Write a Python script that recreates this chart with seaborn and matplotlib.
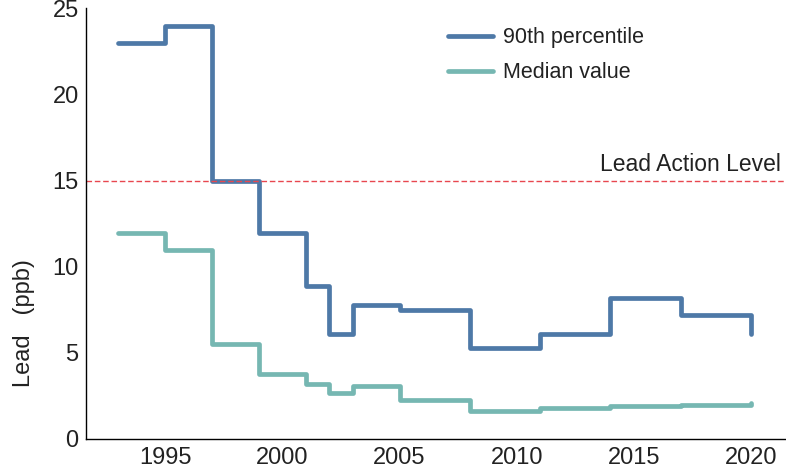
import numpy as np
import pandas as pd
import matplotlib.pyplot as plt
import seaborn as sns

years = [1993, 1995, 1997, 1999, 2001, 2002, 2003, 2005, 2008, 2011, 2014, 2017, 2020]
p90 = [23.0, 24.0, 15.0, 12.0, 8.9, 6.1, 7.8, 7.5, 5.3, 6.1, 8.2, 7.2, 6.1]
median = [12.0, 11.0, 5.5, 3.8, 3.2, 2.7, 3.1, 2.25, 1.6, 1.8, 1.9, 1.96, 2.1]
series_names = ['90th percentile', 'Median value']
action_level = 15
xticks = [1995, 2000, 2005, 2010, 2015, 2020]
yticks = [0, 5, 10, 15, 20, 25]

df = pd.concat([
    pd.DataFrame({'year': years, 'lead': p90, 'series': series_names[0]}),
    pd.DataFrame({'year': years, 'lead': median, 'series': series_names[1]}),
])

sns.set_theme(style='white')
plt.rcParams['font.family'] = ['Liberation Sans', 'DejaVu Sans']

fig = plt.figure(figsize=(7.86, 4.68), dpi=100)
ax = fig.add_axes([0.109, 0.062, 0.891, 0.921])

sns.lineplot(data=df, x='year', y='lead', hue='series',
             palette=['#4e79a7', '#76b7b2'], drawstyle='steps-post',
             linewidth=3.4, ax=ax, legend=True)

ax.axhline(action_level, color='#e8474f', linestyle=(0, (4, 2)), linewidth=1)
ax.text(2021.3, action_level + 0.3, 'Lead Action Level', ha='right', va='bottom',
        fontsize=16.5, color='#222222')

ax.set_xlim(1991.6, 2021.5)
ax.set_ylim(0, 25.05)
ax.set_xticks(xticks)
ax.set_yticks(yticks)
ax.tick_params(axis='both', length=0, labelsize=17, colors='#222222')
ax.tick_params(axis='x', pad=6)
ax.tick_params(axis='y', pad=5)
ax.set_xlabel('')
ax.set_ylabel('Lead   (ppb)', fontsize=17, color='#222222')
ax.yaxis.set_label_coords(-0.072, 0.27)

for s in ['top', 'right']:
    ax.spines[s].set_visible(False)
for s in ['left', 'bottom']:
    ax.spines[s].set_color('black')
    ax.spines[s].set_linewidth(1)

leg = ax.legend(loc='upper left', bbox_to_anchor=(0.49, 1.0), frameon=False,
                fontsize=15.5, handlelength=2.1, handletextpad=0.45, labelspacing=0.65)
for t in leg.get_texts():
    t.set_color('#222222')

fig.savefig('out.png', dpi=100)
